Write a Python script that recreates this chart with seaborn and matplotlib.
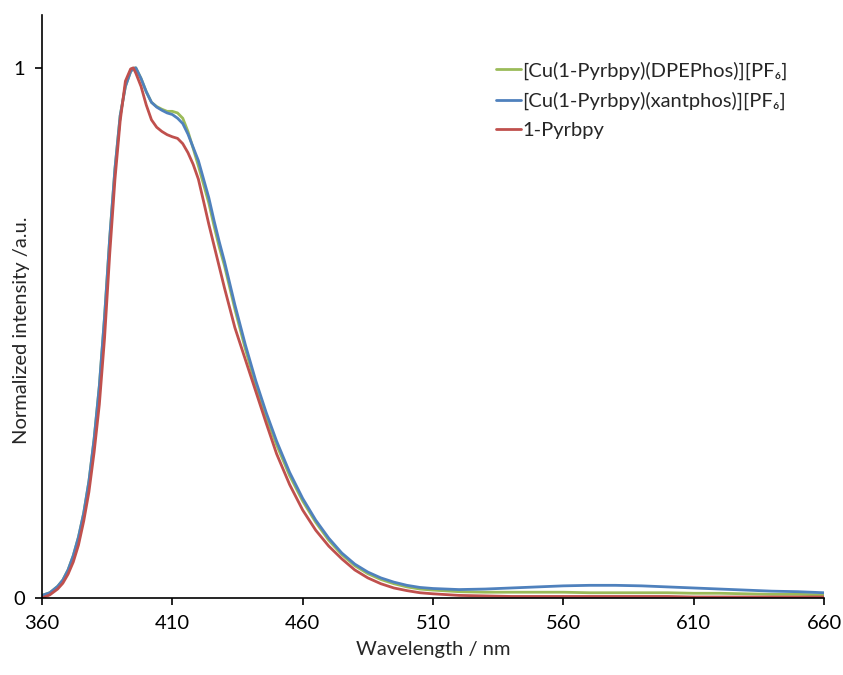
import matplotlib
matplotlib.use('Agg')
import matplotlib.pyplot as plt
import seaborn as sns
import pandas as pd

####### Data #######
wavelength = [360, 363, 366, 368, 370, 372, 374, 376, 378, 380, 382, 384, 386, 388, 390,
              392, 394, 395, 396, 398, 400, 402, 404, 406, 408, 410, 412, 414, 416, 418,
              420, 422, 424, 426, 428, 430, 434, 438, 442, 446, 450, 455, 460, 465, 470,
              475, 480, 485, 490, 495, 500, 505, 510, 520, 530, 540, 550, 560, 570, 580,
              590, 600, 610, 620, 630, 640, 650, 660]

dpephos = [0.005, 0.010, 0.022, 0.034, 0.053, 0.080, 0.115, 0.160, 0.220, 0.300, 0.400, 0.530, 0.680, 0.810, 0.910,
           0.965, 0.993, 0.999, 1.000, 0.980, 0.955, 0.935, 0.927, 0.922, 0.918, 0.918, 0.915, 0.905, 0.880, 0.848,
           0.815, 0.780, 0.745, 0.702, 0.662, 0.627, 0.545, 0.470, 0.402, 0.342, 0.289, 0.231, 0.183, 0.143, 0.109,
           0.082, 0.061, 0.046, 0.035, 0.027, 0.021, 0.017, 0.015, 0.012, 0.011, 0.011, 0.011, 0.011, 0.010, 0.010,
           0.010, 0.010, 0.009, 0.009, 0.008, 0.007, 0.007, 0.006]

xantphos = [0.005, 0.010, 0.022, 0.034, 0.053, 0.080, 0.115, 0.160, 0.220, 0.300, 0.400, 0.530, 0.680, 0.810, 0.910,
            0.965, 0.993, 0.999, 1.000, 0.980, 0.955, 0.935, 0.926, 0.920, 0.915, 0.912, 0.905, 0.895, 0.875, 0.850,
            0.825, 0.790, 0.755, 0.712, 0.672, 0.635, 0.553, 0.478, 0.410, 0.350, 0.296, 0.237, 0.188, 0.147, 0.113,
            0.085, 0.064, 0.049, 0.038, 0.030, 0.024, 0.020, 0.018, 0.016, 0.017, 0.019, 0.021, 0.023, 0.024, 0.024,
            0.023, 0.021, 0.019, 0.017, 0.015, 0.013, 0.012, 0.010]

pyrbpy = [0.000, 0.006, 0.017, 0.028, 0.045, 0.068, 0.100, 0.145, 0.200, 0.275, 0.365, 0.490, 0.650, 0.790, 0.900,
          0.975, 0.998, 1.000, 0.990, 0.965, 0.930, 0.902, 0.888, 0.880, 0.874, 0.870, 0.867, 0.857, 0.840, 0.818,
          0.790, 0.748, 0.705, 0.665, 0.625, 0.585, 0.510, 0.450, 0.390, 0.330, 0.272, 0.214, 0.166, 0.128, 0.098,
          0.074, 0.053, 0.038, 0.027, 0.019, 0.014, 0.010, 0.008, 0.005, 0.004, 0.003, 0.003, 0.003, 0.003, 0.003,
          0.003, 0.003, 0.002, 0.002, 0.002, 0.002, 0.002, 0.002]

labels = ['[Cu(1-Pyrbpy)(DPEPhos)][PF₆]', '[Cu(1-Pyrbpy)(xantphos)][PF₆]', '1-Pyrbpy']
colors = ['#9BBB59', '#4F81BD', '#C0504D']
x_ticks = [360, 410, 460, 510, 560, 610, 660]
y_ticks = [0, 1]

df = pd.DataFrame({'Wavelength': wavelength * 3,
                   'Intensity': dpephos + xantphos + pyrbpy,
                   'Sample': [labels[0]] * len(wavelength) + [labels[1]] * len(wavelength) + [labels[2]] * len(wavelength)})

####### Plot #######
sns.set_style('ticks')
plt.rcParams['font.family'] = ['Lato', 'DejaVu Sans']

fig = plt.figure(figsize=(8.43, 6.75), dpi=100)
ax = fig.add_axes([0.0498, 0.114, 0.9277, 0.864])

sns.lineplot(data=df, x='Wavelength', y='Intensity', hue='Sample', hue_order=labels,
             palette=colors, linewidth=2.0, ax=ax)

ax.set_xlim(360, 660)
ax.set_ylim(0, 1.1)
ax.set_xticks(x_ticks)
ax.set_yticks(y_ticks)
ax.set_xticklabels([str(t) for t in x_ticks], fontsize=14.5)
ax.set_yticklabels([str(t) for t in y_ticks], fontsize=14.5)
ax.tick_params(direction='out', length=5, width=1.2, colors='black', pad=7)
ax.set_xlabel('Wavelength / nm', fontsize=14.5, labelpad=7)
ax.set_ylabel('Normalized intensity /a.u.', fontsize=14.5)
ax.yaxis.label.set_va('center')
ax.yaxis.set_label_coords(-0.0256, 0.46)

for side in ['top', 'right']:
    ax.spines[side].set_visible(False)
for side in ['left', 'bottom']:
    ax.spines[side].set_color('black')
    ax.spines[side].set_linewidth(1.2)

ax.legend(loc='upper left', bbox_to_anchor=(0.5885, 0.909), bbox_transform=fig.transFigure,
          frameon=False, fontsize=14.5, handlelength=1.25, handletextpad=0.05,
          labelspacing=0.6, borderaxespad=0, borderpad=0)

fig.savefig('out.png', dpi=100)
